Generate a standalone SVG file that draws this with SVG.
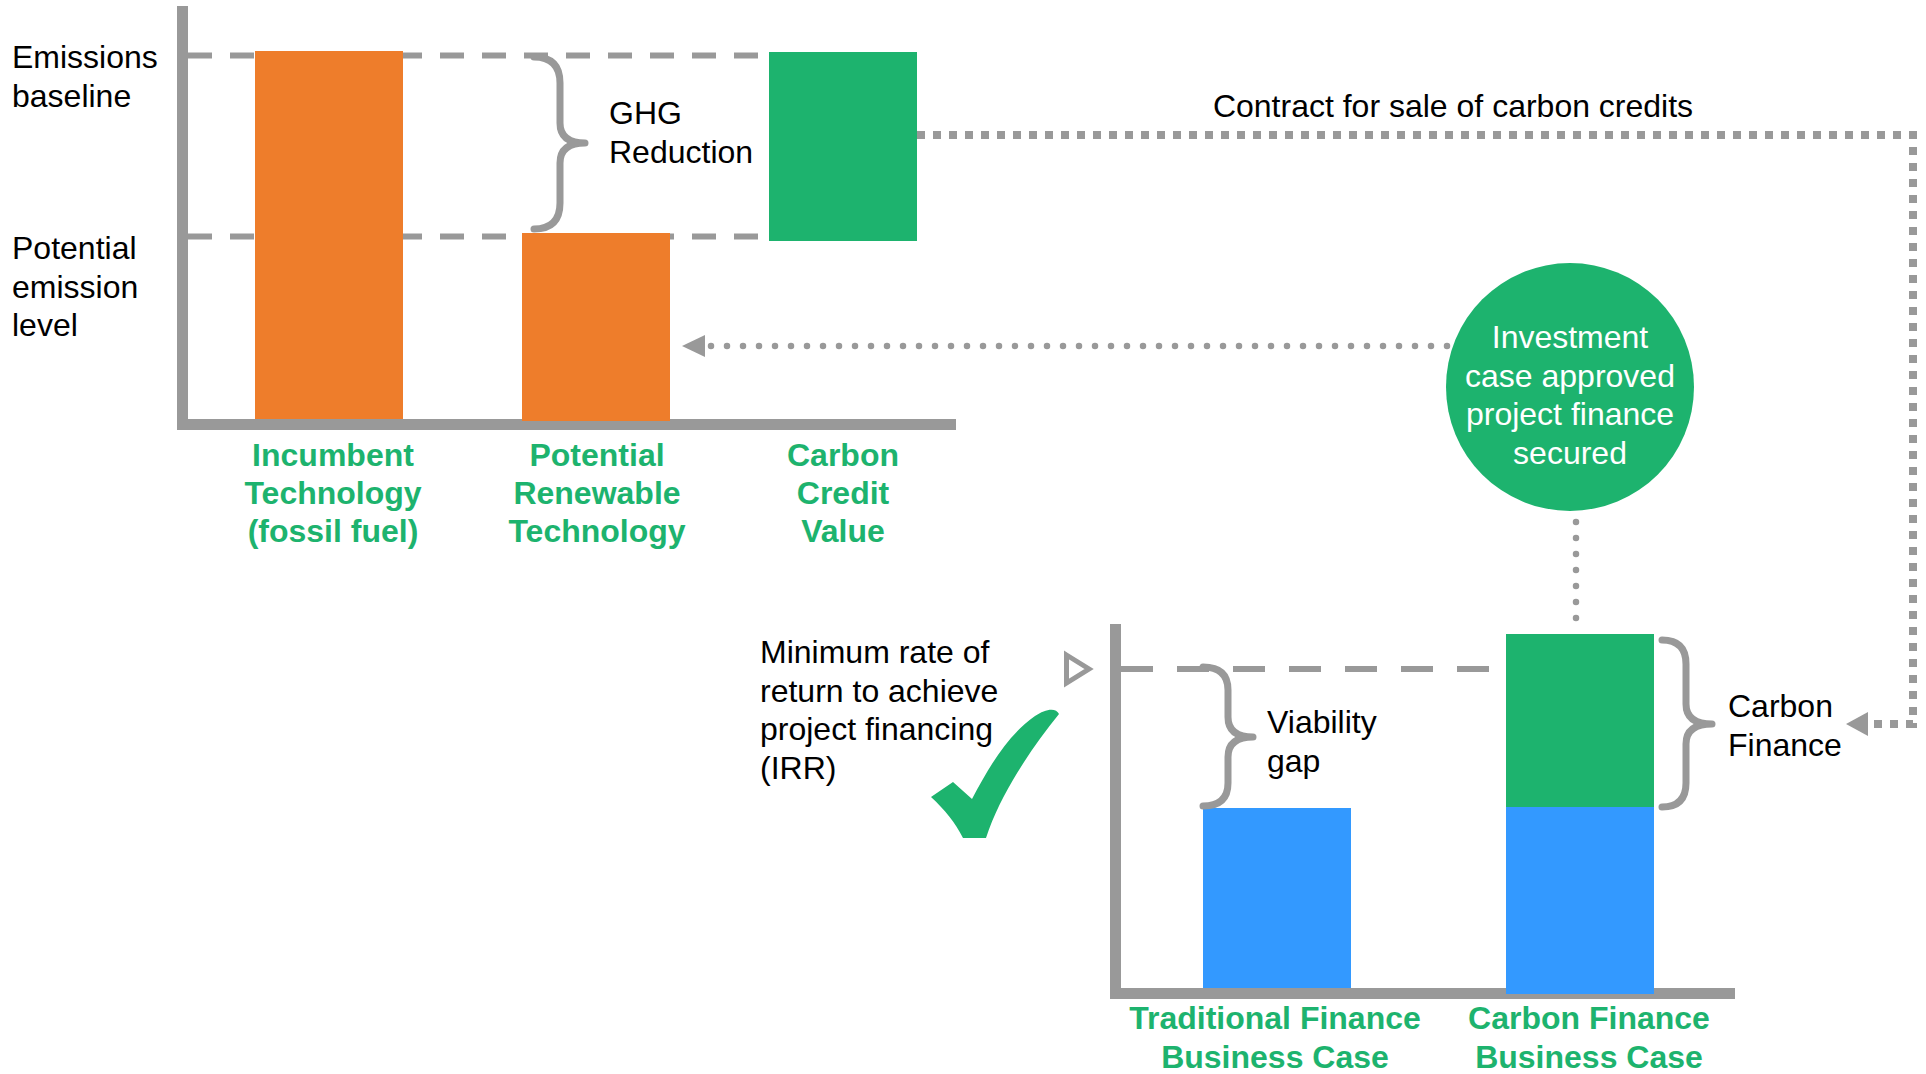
<svg xmlns="http://www.w3.org/2000/svg" width="1926" height="1074" viewBox="0 0 1926 1074">
<style>
.t{font-family:"Liberation Sans",Arial,sans-serif;font-size:32px;fill:#000}
.lbl{font-weight:bold;fill:#1DB36E;text-anchor:middle}
.w{fill:#fff;text-anchor:middle}
.axis{fill:#999}
.brace{fill:none;stroke:#999;stroke-width:7;stroke-linecap:round;stroke-linejoin:round}
.dash{stroke:#999;stroke-width:6}
.sq{fill:none;stroke:#999;stroke-width:8;stroke-dasharray:8 8}
.dot{fill:none;stroke:#999;stroke-width:6.5;stroke-linecap:round;stroke-dasharray:0 16}
.orange{fill:#EE7D2B}
.green{fill:#1DB36E}
.blue{fill:#3399FF}
</style>
<rect width="1926" height="1074" fill="#fff"/>

<g id="top-chart">
  <line class="dash" x1="188" y1="55.5" x2="760" y2="55.5" stroke-dasharray="24 18"/>
  <line class="dash" x1="188" y1="236.5" x2="760" y2="236.5" stroke-dasharray="24 18"/>
  <rect class="axis" x="177" y="6" width="11" height="424"/>
  <rect class="axis" x="177" y="419" width="779" height="11"/>
</g>

<g id="bar-incumbent">
  <rect class="orange" x="255" y="51" width="148" height="368"/>
  <text class="t lbl" x="333" y="466">Incumbent</text>
  <text class="t lbl" x="333" y="504">Technology</text>
  <text class="t lbl" x="333" y="542">(fossil fuel)</text>
</g>

<g id="bar-renewable">
  <rect class="orange" x="522" y="233" width="148" height="188"/>
  <text class="t lbl" x="597" y="466">Potential</text>
  <text class="t lbl" x="597" y="504">Renewable</text>
  <text class="t lbl" x="597" y="542">Technology</text>
</g>

<g id="bar-carbon-credit">
  <rect class="green" x="769" y="52" width="148" height="189"/>
  <text class="t lbl" x="843" y="466">Carbon</text>
  <text class="t lbl" x="843" y="504">Credit</text>
  <text class="t lbl" x="843" y="542">Value</text>
</g>

<g id="label-emissions-baseline">
  <text class="t" x="12" y="68">Emissions</text>
  <text class="t" x="12" y="106.5">baseline</text>
</g>

<g id="label-potential-emission">
  <text class="t" x="12" y="259">Potential</text>
  <text class="t" x="12" y="297.5">emission</text>
  <text class="t" x="12" y="336">level</text>
</g>

<g id="ghg-reduction">
  <path class="brace" d="M534 57 Q560 57 560 83 L560 123 Q560 143 585 143 Q560 143 560 163 L560 203 Q560 229 534 229"/>
  <text class="t" x="609" y="124">GHG</text>
  <text class="t" x="609" y="162.5">Reduction</text>
</g>

<g id="contract-label">
  <text class="t" x="1453" y="117" text-anchor="middle">Contract for sale of carbon credits</text>
</g>

<g id="investment-circle">
  <circle class="green" cx="1570" cy="387" r="124"/>
  <text class="t w" x="1570" y="348">Investment</text>
  <text class="t w" x="1570" y="386.5">case approved</text>
  <text class="t w" x="1570" y="425">project finance</text>
  <text class="t w" x="1570" y="463.5">secured</text>
</g>

<g id="bottom-chart">
  <line class="dash" x1="1121" y1="669" x2="1493" y2="669" stroke-dasharray="32 24" stroke-width="7"/>
  <rect class="axis" x="1110" y="624" width="11" height="375"/>
  <rect class="axis" x="1110" y="988" width="625" height="11"/>
  <polygon points="1066.5,655 1089,669 1066.5,683" fill="#fff" stroke="#999" stroke-width="5"/>
</g>

<g id="label-minimum-rate">
  <text class="t" x="760" y="663">Minimum rate of</text>
  <text class="t" x="760" y="701.5">return to achieve</text>
  <text class="t" x="760" y="740">project financing</text>
  <text class="t" x="760" y="778.5">(IRR)</text>
</g>

<g id="checkmark">
  <path class="green" d="M931 797 L953 782 L972 799 C990 765 1008 735 1035 716 C1045 709 1056 707 1059 714 C1030 750 1000 795 986 838 L963 838 C955 822 945 810 931 797 Z"/>
</g>

<g id="bar-traditional">
  <rect class="blue" x="1203" y="808" width="148" height="180"/>
  <text class="t lbl" x="1275" y="1029">Traditional Finance</text>
  <text class="t lbl" x="1275" y="1067.5">Business Case</text>
</g>

<g id="viability-gap">
  <path class="brace" d="M1203 667 Q1228 667 1228 690 L1228 717 Q1228 737 1253 737 Q1228 737 1228 757 L1228 783 Q1228 806 1203 806"/>
  <text class="t" x="1267" y="733">Viability</text>
  <text class="t" x="1267" y="771.5">gap</text>
</g>

<g id="bar-carbon-finance">
  <rect class="green" x="1506" y="634" width="148" height="174"/>
  <rect class="blue" x="1506" y="807" width="148" height="187"/>
  <text class="t lbl" x="1589" y="1029">Carbon Finance</text>
  <text class="t lbl" x="1589" y="1067.5">Business Case</text>
</g>

<g id="carbon-finance">
  <path class="brace" d="M1662 640 Q1686 640 1686 664 L1686 704 Q1686 724 1712 724 Q1686 724 1686 744 L1686 783 Q1686 807 1662 807"/>
  <text class="t" x="1728" y="717">Carbon</text>
  <text class="t" x="1728" y="755.5">Finance</text>
</g>

<g id="connectors">
  <path class="sq" d="M917 135 L1913 135 L1913 724 L1870 724"/>
  <polygon points="1846,724 1868,712 1868,736" fill="#999"/>
  <path class="dot" d="M1447 346 L708 346"/>
  <polygon points="682,346 705,335 705,357" fill="#999"/>
  <path class="dot" d="M1576 522 L1576 634"/>
</g>
</svg>
